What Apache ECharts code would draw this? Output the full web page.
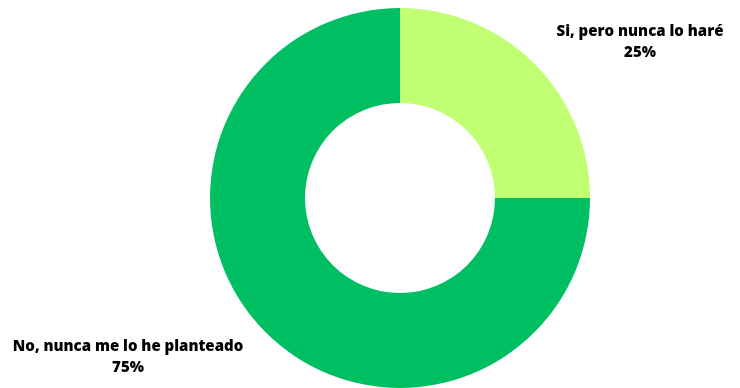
<!DOCTYPE html>
<html>
<head>
<meta charset="utf-8">
<script src="https://cdn.jsdelivr.net/npm/echarts@6/dist/echarts.min.js"></script>
<style>
  html, body { margin: 0; padding: 0; background: #ffffff; }
  #chart { width: 740px; height: 388px; }
</style>
</head>
<body>
<div id="chart"></div>
<script>
// Answer categories and their shares (percent)
const categories = ['Si, pero nunca lo haré', 'No, nunca me lo he planteado'];
const shares = [25, 75];
const colors = ['#C1FF72', '#00BF63'];
// Where each label block is centred
const labelSpots = [[640, 42], [128, 357]];

const chart = echarts.init(document.getElementById('chart'), null, { renderer: 'canvas' });

chart.setOption({
  animation: false,
  series: [{
    type: 'pie',
    center: [400, 198],
    radius: [95, 190],
    startAngle: 90,
    clockwise: true,
    silent: true,
    data: categories.map((name, i) => ({
      name: name,
      value: shares[i],
      itemStyle: { color: colors[i] }
    })),
    label: {
      show: true,
      position: 'outside',
      formatter: (p) => p.name + '\n' + p.value + '%',
      fontFamily: 'Open Sans',
      fontWeight: 800,
      fontSize: 15,
      lineHeight: 21,
      color: '#000000',
      align: 'center',
      overflow: 'none',
      width: 400
    },
    labelLine: { show: false },
    labelLayout: (params) => {
      const spot = labelSpots[params.dataIndex];
      return { x: spot[0], y: spot[1], align: 'center', verticalAlign: 'middle' };
    }
  }]
});
</script>
</body>
</html>
